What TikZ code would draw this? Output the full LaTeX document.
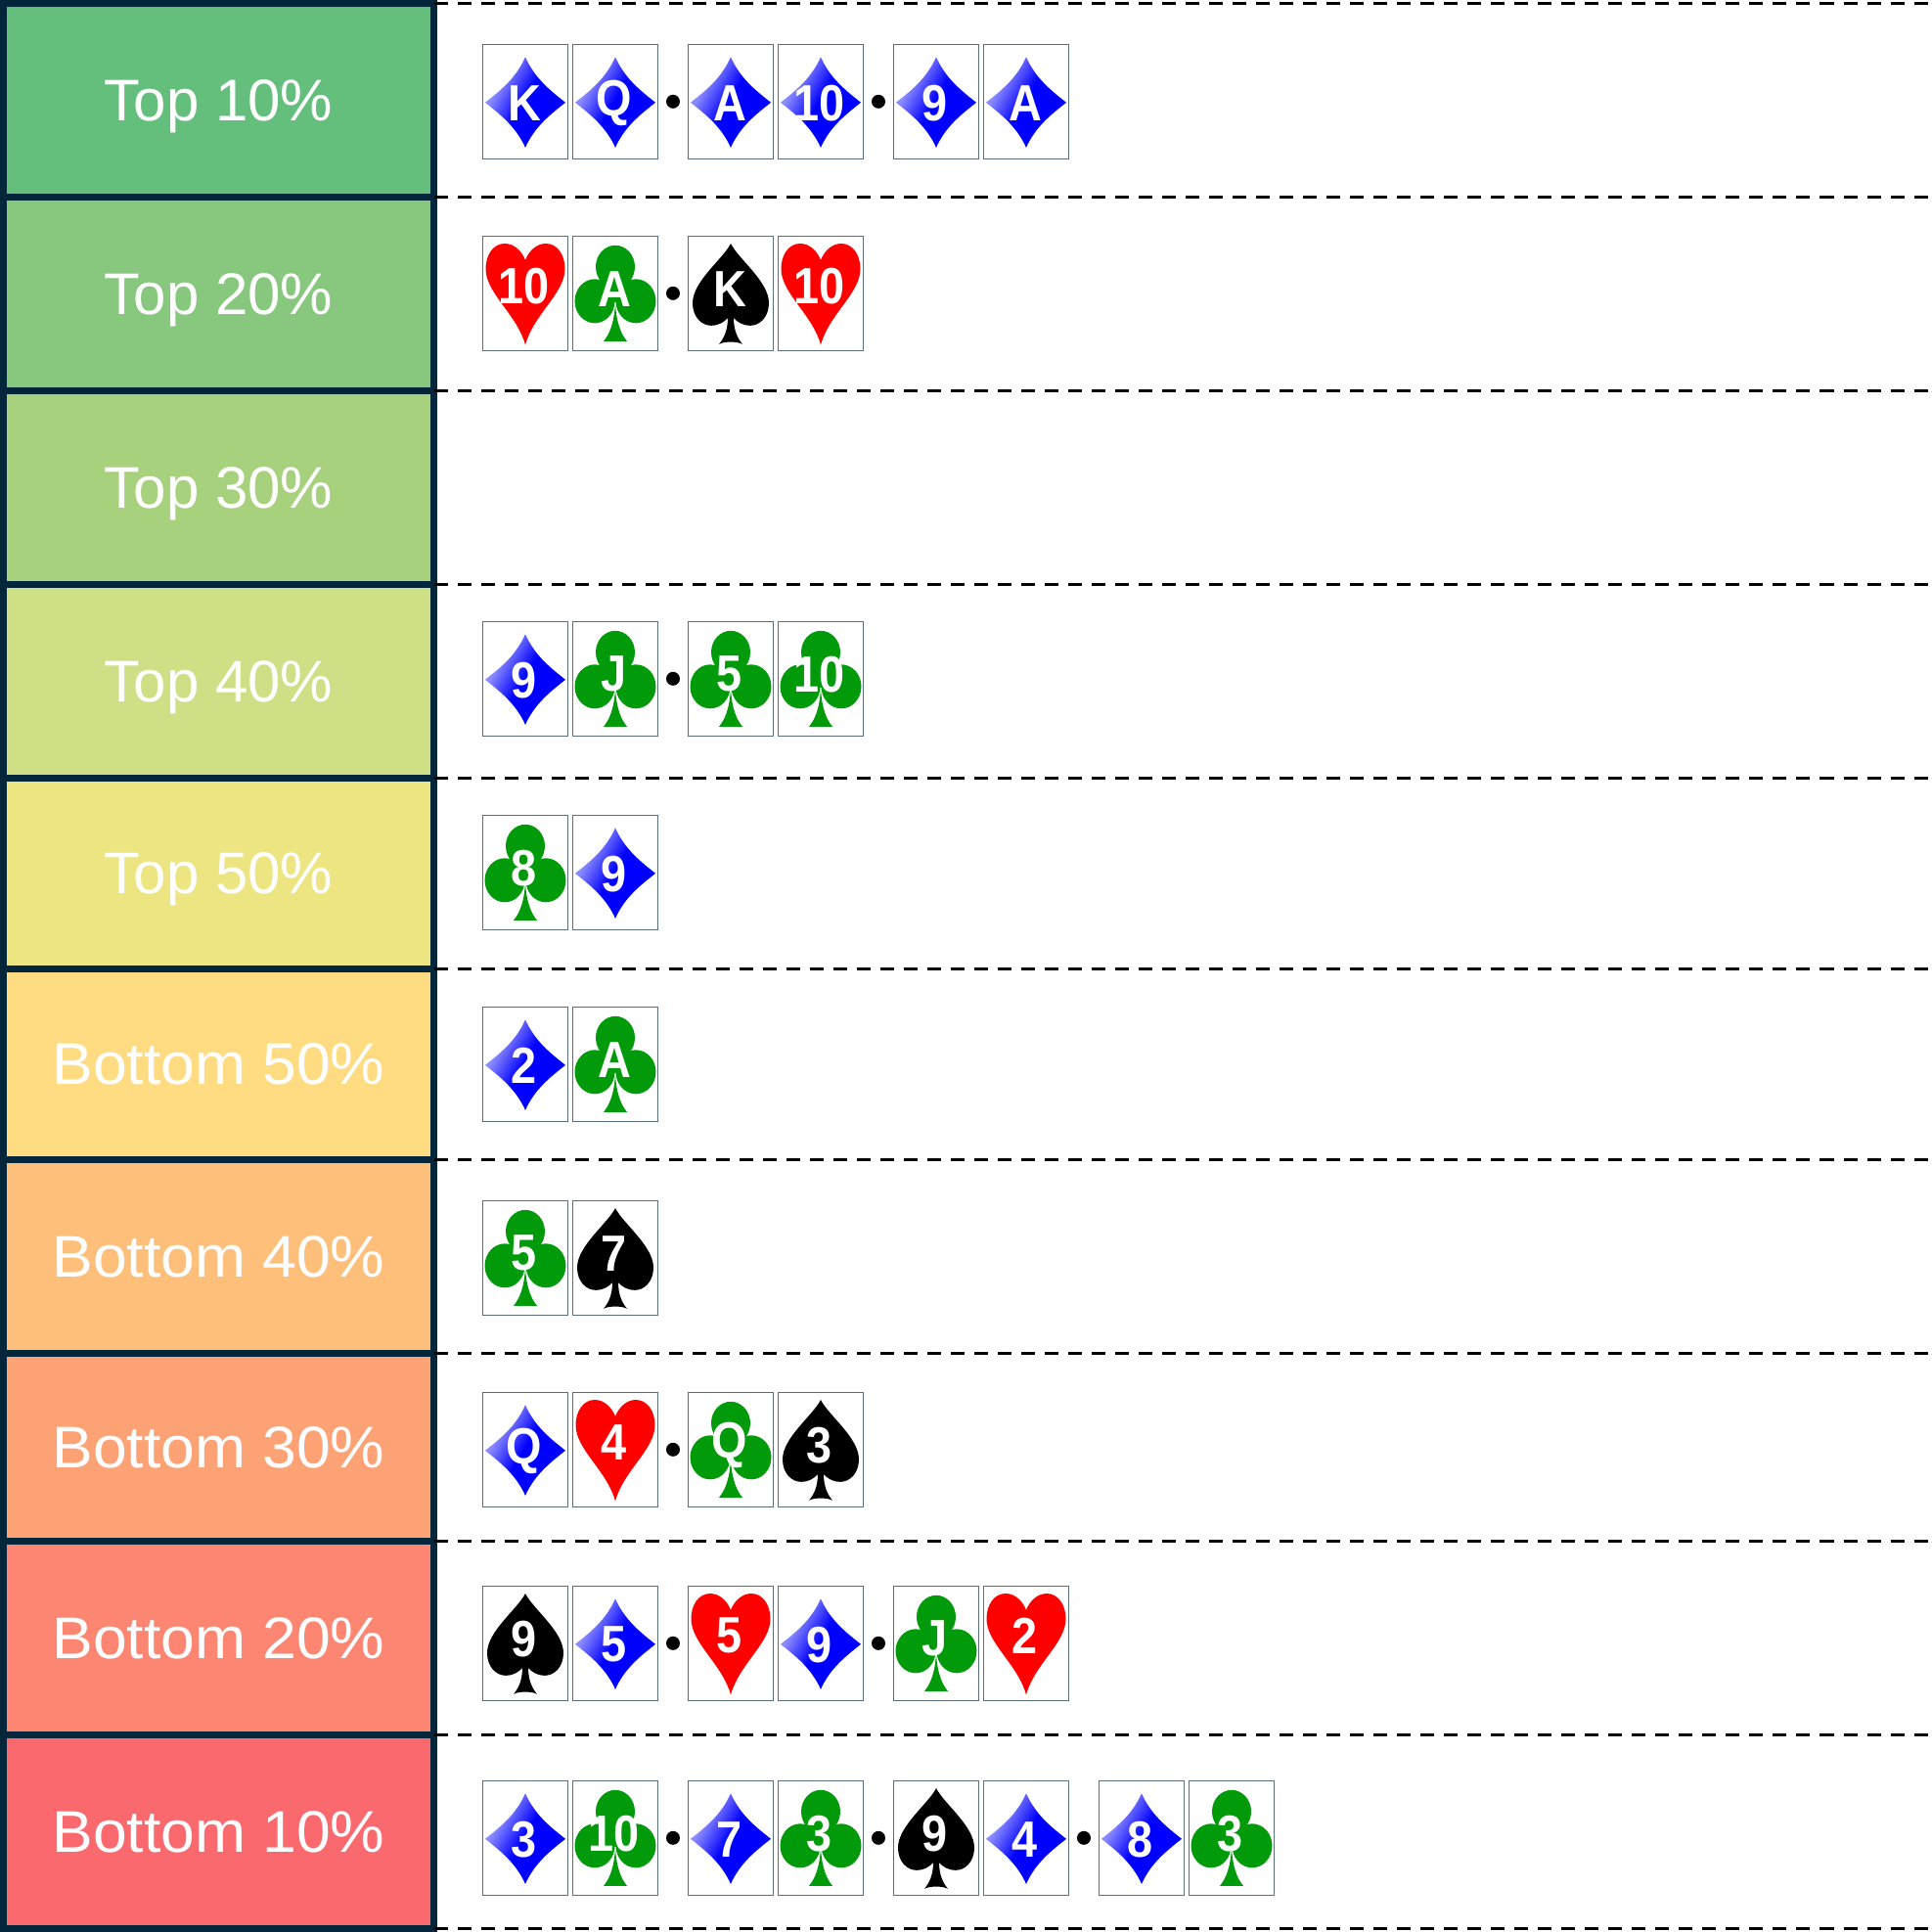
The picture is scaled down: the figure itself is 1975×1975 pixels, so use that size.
\documentclass[tikz,border=0pt]{standalone}
\usepackage{fontspec}
\setmainfont{Liberation Sans}
\newfontfamily\bottomfont{Liberation Sans}[FakeStretch=1.04]
\newfontfamily\rankfont{Liberation Sans}[FakeStretch=0.9]
\usetikzlibrary{calc}
\definecolor{gridnavy}{RGB}{4,38,58}
\definecolor{cardedge}{RGB}{90,110,125}
\definecolor{clubgreen}{RGB}{0,154,10}
\definecolor{band1}{RGB}{100,191,125}
\definecolor{band2}{RGB}{135,200,126}
\definecolor{band3}{RGB}{168,209,125}
\definecolor{band4}{RGB}{206,223,133}
\definecolor{band5}{RGB}{236,229,130}
\definecolor{band6}{RGB}{255,220,130}
\definecolor{band7}{RGB}{253,191,122}
\definecolor{band8}{RGB}{252,162,116}
\definecolor{band9}{RGB}{252,134,113}
\definecolor{band10}{RGB}{250,105,110}
\pgfdeclarehorizontalshading{diamondshade}{100bp}{color(0bp)=(blue!45!white); color(31bp)=(blue!45!white); color(49bp)=(blue); color(100bp)=(blue)}
\tikzset{
    band/.style={draw=gridnavy, line width=0.07cm, fill=#1, inner sep=0pt, outer sep=0pt,
        minimum width=4.4cm, text=white, text height=0.52cm, text depth=0.10cm,
        font=\fontsize{17.07}{20}\selectfont},
    rowline/.style={black, line width=0.03cm, dash pattern=on 0.14cm off 0.10cm},
    cardbox/.style={draw=cardedge, line width=0.014cm, fill=white, inner sep=0pt, outer sep=0pt,
        minimum width=0.873cm, minimum height=1.17cm},
    sepdot/.style={circle, fill=black, inner sep=0pt, minimum size=0.14cm},
    rank/.style={text=white, inner sep=0pt, font=\rankfont\bfseries\fontsize{14.8}{16}\selectfont},
    diamondpic/.pic={
        \shade[shading=diamondshade, shading angle=-30] (0,-45.5) .. controls (10,-23) and (26,-11) .. (41,1)
            .. controls (26,13) and (10,25) .. (0,47) .. controls (-10,25) and (-26,13) .. (-41,1)
            .. controls (-26,-11) and (-10,-23) .. cycle;
        \node[rank] (-rank) at (-1,1.5) {#1};
    },
    heartpic/.pic={
        \fill[red] (0,-34) .. controls (-4,-44) and (-12,-50.8) .. (-21,-50.8)
            .. controls (-33,-50.8) and (-40.5,-39) .. (-40.5,-25) .. controls (-40.5,0) and (-8,22) .. (0,52.8)
            .. controls (8,22) and (40.5,0) .. (40.5,-25) .. controls (40.5,-39) and (33,-50.8) .. (21,-50.8)
            .. controls (12,-50.8) and (4,-44) .. cycle;
        \node[rank] (-rank) at (-1,-7.5) {#1};
    },
    spadepic/.pic={
        \fill[black] (0,-50.8) .. controls (-8,-35) and (-39,-12) .. (-39,10)
            .. controls (-39,24) and (-30,33) .. (-20,33) .. controls (-12,33) and (-6,29) .. (-3,25)
            .. controls (-3,38) and (-7,46) .. (-12,52) .. controls (-7,49) and (7,49) .. (12,52)
            .. controls (7,46) and (3,38) .. (3,25) .. controls (6,29) and (12,33) .. (20,33)
            .. controls (30,33) and (39,24) .. (39,10) .. controls (39,-12) and (8,-35) .. cycle;
        \node[rank] (-rank) at (-1,-4.5) {#1};
    },
    clubpic/.pic={
        \fill[clubgreen] (0,-27) ellipse (20 and 22);
        \fill[clubgreen] (-21,8) ellipse (20.5 and 22.5);
        \fill[clubgreen] (21,8) ellipse (20.5 and 22.5);
        \fill[clubgreen] (0,-5) circle (14);
        \fill[clubgreen] (0,10) .. controls (-1,30) and (-6,42) .. (-12,49) -- (12,49) .. controls (6,42) and (1,30) .. cycle;
        \node[rank] (-rank) at (-1,-4.5) {#1};
    }
}
\newcommand{\card}[4]{%
    \node[cardbox] (c#1-#2) at (col#1 |- row#2) {};
    \pic at (c#1-#2) {#3=#4};
}
\newcommand{\sepdot}[2]{\node[sepdot] (d#1-#2) at (dot#1 |- row#2) {};}
\begin{document}
\begin{tikzpicture}[x=0.01cm, y=-0.01cm]
    \useasboundingbox (0,0) rectangle (1975,1975);
    \coordinate (rightedge) at (1975,0);

    % columns of cards and separator dots
    \coordinate (col1) at (537,0);
    \coordinate (col2) at (629,0);
    \coordinate (col3) at (747,0);
    \coordinate (col4) at (839,0);
    \coordinate (col5) at (957,0);
    \coordinate (col6) at (1049,0);
    \coordinate (col7) at (1167,0);
    \coordinate (col8) at (1259,0);
    \coordinate (dot1) at (688,0);
    \coordinate (dot2) at (898,0);
    \coordinate (dot3) at (1108,0);

    \coordinate (row1) at (0,103.8);
    \coordinate (row2) at (0,299.8);
    \coordinate (row4) at (0,693.8);
    \coordinate (row5) at (0,891.8);
    \coordinate (row6) at (0,1087.8);
    \coordinate (row7) at (0,1285.8);
    \coordinate (row8) at (0,1481.8);
    \coordinate (row9) at (0,1679.8);
    \coordinate (row10) at (0,1878.8);

    % tier bands
    \node[band=band1, minimum height=1.98cm] (top10) at (223.5,102.3) {Top 10\%};
    \node[band=band2, minimum height=1.98cm] (top20) at (223.5,300.3) {Top 20\%};
    \node[band=band3, minimum height=1.98cm] (top30) at (223.5,498.3) {Top 30\%};
    \node[band=band4, minimum height=1.98cm] (top40) at (223.5,696.3) {Top 40\%};
    \node[band=band5, minimum height=1.95cm] (top50) at (223.5,892.8) {Top 50\%};
    \node[band=band6, minimum height=1.95cm] (bot50) at (223.5,1087.8) {\bottomfont Bottom 50\%};
    \node[band=band7, minimum height=1.98cm] (bot40) at (223.5,1284.3) {\bottomfont Bottom 40\%};
    \node[band=band8, minimum height=1.92cm] (bot30) at (223.5,1479.3) {\bottomfont Bottom 30\%};
    \node[band=band9, minimum height=1.98cm] (bot20) at (223.5,1674.3) {\bottomfont Bottom 20\%};
    \node[band=band10, minimum height=1.98cm] (bot10) at (223.5,1872.3) {\bottomfont Bottom 10\%};

    % row separators
    \draw[rowline] (top10.north east) -- (top10.north east -| rightedge);
    \draw[rowline] (top20.north east) -- (top20.north east -| rightedge);
    \draw[rowline] (top30.north east) -- (top30.north east -| rightedge);
    \draw[rowline] (top40.north east) -- (top40.north east -| rightedge);
    \draw[rowline] (top50.north east) -- (top50.north east -| rightedge);
    \draw[rowline] (bot50.north east) -- (bot50.north east -| rightedge);
    \draw[rowline] (bot40.north east) -- (bot40.north east -| rightedge);
    \draw[rowline] (bot30.north east) -- (bot30.north east -| rightedge);
    \draw[rowline] (bot20.north east) -- (bot20.north east -| rightedge);
    \draw[rowline] (bot10.north east) -- (bot10.north east -| rightedge);
    \draw[rowline] (bot10.south east) -- (bot10.south east -| rightedge);

    % hands
    \card{1}{1}{diamondpic}{K}
    \card{2}{1}{diamondpic}{Q}
    \sepdot{1}{1}
    \card{3}{1}{diamondpic}{A}
    \card{4}{1}{diamondpic}{10}
    \sepdot{2}{1}
    \card{5}{1}{diamondpic}{9}
    \card{6}{1}{diamondpic}{A}

    \card{1}{2}{heartpic}{10}
    \card{2}{2}{clubpic}{A}
    \sepdot{1}{2}
    \card{3}{2}{spadepic}{K}
    \card{4}{2}{heartpic}{10}

    \card{1}{4}{diamondpic}{9}
    \card{2}{4}{clubpic}{J}
    \sepdot{1}{4}
    \card{3}{4}{clubpic}{5}
    \card{4}{4}{clubpic}{10}

    \card{1}{5}{clubpic}{8}
    \card{2}{5}{diamondpic}{9}

    \card{1}{6}{diamondpic}{2}
    \card{2}{6}{clubpic}{A}

    \card{1}{7}{clubpic}{5}
    \card{2}{7}{spadepic}{7}

    \card{1}{8}{diamondpic}{Q}
    \card{2}{8}{heartpic}{4}
    \sepdot{1}{8}
    \card{3}{8}{clubpic}{Q}
    \card{4}{8}{spadepic}{3}

    \card{1}{9}{spadepic}{9}
    \card{2}{9}{diamondpic}{5}
    \sepdot{1}{9}
    \card{3}{9}{heartpic}{5}
    \card{4}{9}{diamondpic}{9}
    \sepdot{2}{9}
    \card{5}{9}{clubpic}{J}
    \card{6}{9}{heartpic}{2}

    \card{1}{10}{diamondpic}{3}
    \card{2}{10}{clubpic}{10}
    \sepdot{1}{10}
    \card{3}{10}{diamondpic}{7}
    \card{4}{10}{clubpic}{3}
    \sepdot{2}{10}
    \card{5}{10}{spadepic}{9}
    \card{6}{10}{diamondpic}{4}
    \sepdot{3}{10}
    \card{7}{10}{diamondpic}{8}
    \card{8}{10}{clubpic}{3}
\end{tikzpicture}
\end{document}
